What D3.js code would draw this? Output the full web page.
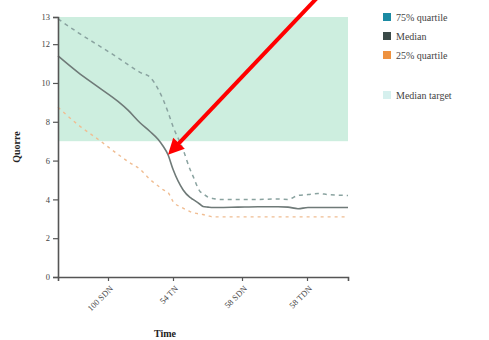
<!DOCTYPE html>
<html>
<head>
<meta charset="utf-8">
<script src="https://cdn.jsdelivr.net/npm/d3@7"></script>
<style>
  html, body { margin: 0; padding: 0; background: #fff; }
  svg { display: block; font-family: "Liberation Serif", "DejaVu Serif", serif; }
</style>
</head>
<body>
<svg id="chart" width="489" height="340"></svg>
<script>
// Time index (weeks) shared by all three series
const time = [0, 4, 8, 12, 14, 16.4, 18.4, 20, 21, 22, 23, 25, 26.4, 27, 28.4, 29, 30, 31, 32, 36, 40, 44, 46, 48, 50, 52, 54, 56, 58];
const q75 = [13.3, 12.6, 11.95, 11.3, 10.95, 10.55, 10.3, 9.7, 9.16, 8.5, 7.76, 6.58, 5.55, 5.2, 4.41, 4.3, 4.12, 4.05, 4.0, 4.0, 4.0, 4.02, 4.0, 4.2, 4.25, 4.3, 4.25, 4.22, 4.2];
const median = [11.4, 10.55, 9.8, 9.05, 8.6, 7.95, 7.5, 7.1, 6.75, 6.3, 5.55, 4.5, 4.1, 4.0, 3.75, 3.63, 3.6, 3.58, 3.58, 3.6, 3.62, 3.62, 3.6, 3.52, 3.58, 3.58, 3.58, 3.58, 3.58];
const q25 = [8.75, 7.85, 7.1, 6.32, 5.95, 5.55, 5.03, 4.7, 4.5, 4.36, 3.9, 3.55, 3.37, 3.32, 3.24, 3.22, 3.15, 3.1, 3.1, 3.1, 3.1, 3.1, 3.1, 3.1, 3.1, 3.1, 3.1, 3.1, 3.1];

// Target band for the median
const targetBand = [7, 13.4];

// Axis ticks
const xTickValues = [10, 23, 36.8, 49.8];
const xTickLabels = ["100 SDN", "54 TN", "58 SDN", "58 TDN"];
const yTickValues = [0, 2, 4, 6, 8, 10, 12, 13.4];
const yTickLabels = ["0", "2", "4", "6", "8", "10", "12", "13"];

// Legend entries
const legendLabels = ["75% quartile", "Median", "25% quartile", "Median target"];
const legendColors = ["#1b8aa3", "#3b4a48", "#ee9240", "#d6f0ee"];

// Annotated point (week index in the median series)
const arrowAt = 22;

const serif = "'Liberation Serif', 'DejaVu Serif', serif";
const svg = d3.select("#chart");
const plotLeft = 58, plotRight = 348, plotTop = 17, plotBottom = 277;

const x = d3.scaleLinear().domain([0, 58]).range([plotLeft, plotRight]);
const y = d3.scaleLinear().domain([0, 13.4]).range([plotBottom, plotTop]);

// Median target band
svg.append("rect")
  .attr("x", x(0))
  .attr("y", y(targetBand[1]))
  .attr("width", x(58) - x(0))
  .attr("height", y(targetBand[0]) - y(targetBand[1]))
  .attr("fill", "#cdeedf");

const line = (vals) => d3.line()
  .x((d, i) => x(time[i]))
  .y(d => y(d))
  .curve(d3.curveMonotoneX)(vals);

svg.append("path").attr("d", line(q25))
  .attr("fill", "none").attr("stroke", "#f0bd92")
  .attr("stroke-width", 1.4).attr("stroke-dasharray", "3,4");

svg.append("path").attr("d", line(q75))
  .attr("fill", "none").attr("stroke", "#8aa3a0")
  .attr("stroke-width", 1.5).attr("stroke-dasharray", "4,4");

svg.append("path").attr("d", line(median))
  .attr("fill", "none").attr("stroke", "#6f7a78")
  .attr("stroke-width", 1.6);

// Axes
const xAxis = svg.append("g")
  .attr("transform", `translate(0,${plotBottom})`)
  .call(d3.axisBottom(x).tickValues(xTickValues)
    .tickFormat((d, i) => xTickLabels[i]).tickSizeOuter(4).tickSize(4))
  .attr("font-family", serif);
xAxis.select(".domain").attr("stroke", "#555").attr("stroke-width", 1.6);
xAxis.selectAll(".tick line").attr("stroke", "#555").attr("stroke-width", 1.2);
xAxis.selectAll(".tick text")
  .attr("font-size", 8.5).attr("fill", "#444")
  .attr("text-anchor", "end")
  .attr("y", 0).attr("dy", "0.35em")
  .attr("transform", "translate(3,10) rotate(-45)");

const yAxis = svg.append("g")
  .attr("transform", `translate(${plotLeft},0)`)
  .call(d3.axisLeft(y).tickValues(yTickValues)
    .tickFormat((d, i) => yTickLabels[i]).tickSizeOuter(0).tickSize(5))
  .attr("font-family", serif);
yAxis.select(".domain").attr("stroke", "#555").attr("stroke-width", 1.6);
yAxis.selectAll(".tick line").attr("stroke", "#555").attr("stroke-width", 1.2);
yAxis.selectAll(".tick text").attr("font-size", 8.5).attr("fill", "#444").attr("x", -8);

// Axis titles
svg.append("text")
  .attr("x", 165).attr("y", 337)
  .attr("text-anchor", "middle")
  .attr("font-size", 10).attr("font-weight", "bold").attr("fill", "#222")
  .text("Time");

svg.append("text")
  .attr("transform", `translate(20,${(plotTop + plotBottom) / 2}) rotate(-90)`)
  .attr("text-anchor", "middle")
  .attr("font-size", 10).attr("font-weight", "bold").attr("fill", "#222")
  .text("Quorre");

// Legend
const legend = svg.append("g").attr("transform", "translate(383,17)");
const legendY = [0, 19, 38, 78];
legendLabels.forEach((lab, i) => {
  const g = legend.append("g").attr("transform", `translate(0,${legendY[i]})`);
  g.append("rect").attr("x", 0).attr("y", -4).attr("width", 8).attr("height", 8)
    .attr("fill", legendColors[i]);
  g.append("text").attr("x", 13).attr("y", 0).attr("dy", "0.35em")
    .attr("font-size", 10).attr("fill", "#444").text(lab);
});

// Red annotation arrow pointing at the median curve
const idx = time.indexOf(arrowAt);
const tipX = x(arrowAt), tipY = y(median[idx]);
const startX = tipX + 152, startY = tipY - 160;
const ang = Math.atan2(tipY - startY, tipX - startX);
const headLen = 16, headW = 8;
const baseX = tipX - headLen * Math.cos(ang), baseY = tipY - headLen * Math.sin(ang);
svg.append("line")
  .attr("x1", startX).attr("y1", startY)
  .attr("x2", baseX + 2 * Math.cos(ang)).attr("y2", baseY + 2 * Math.sin(ang))
  .attr("stroke", "#ff0000").attr("stroke-width", 4);
svg.append("path")
  .attr("d", `M${tipX},${tipY} L${baseX + headW * Math.sin(ang)},${baseY - headW * Math.cos(ang)} L${baseX - headW * Math.sin(ang)},${baseY + headW * Math.cos(ang)} Z`)
  .attr("fill", "#ff0000");
</script>
</body>
</html>
